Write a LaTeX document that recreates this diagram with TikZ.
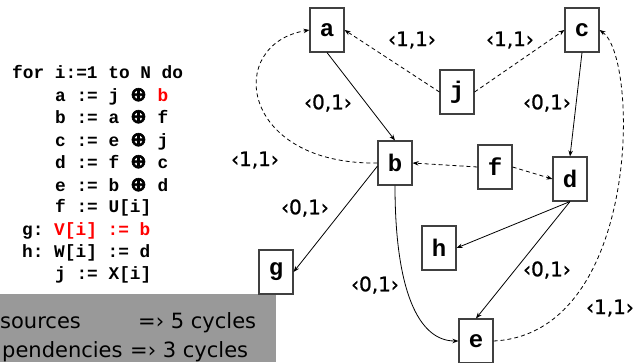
\documentclass[tikz,border=0pt]{standalone}
\usepackage{fontspec}
\setmainfont{DejaVu Sans}
\setmonofont{Liberation Mono}
\newfontfamily\opfont[FakeBold=3]{DejaVu Sans}
\newfontfamily\lblfont[FakeBold=1]{DejaVu Sans}
\usetikzlibrary{arrows.meta}
\tikzstyle{var}=[draw=black!75, line width=1.1pt, fill=white, minimum width=34pt, minimum height=44pt, inner sep=0pt, font=\ttfamily\bfseries\fontsize{24}{24}\selectfont]
\tikzstyle{dep}=[-{Stealth[length=6pt,width=4.5pt]}, line width=0.8pt]
\tikzstyle{carried}=[dep, dash pattern=on 4pt off 3pt]
\tikzstyle{lbl}=[font=\lblfont\fontsize{20}{20}\selectfont, inner sep=0pt]
\tikzstyle{code}=[anchor=base west, inner sep=0pt, font=\ttfamily\bfseries\fontsize{17.8}{17.8}\selectfont]
\tikzstyle{note}=[anchor=base west, inner sep=0pt, font=\fontsize{21}{21}\selectfont]
\newcommand{\opxor}{\makebox[17pt]{\opfont\fontsize{20}{20}\selectfont ⊕}}

\begin{document}
\begin{tikzpicture}[x=1pt, y=-1pt]
\useasboundingbox (0,0) rectangle (635,362);
% Loop body
    \node[code] (l0) at (12,78) {for i:=1 to N do};
    \node[code] (l1) at (55,101) {a := j \opxor{} \textcolor{red}{b}};
    \node[code] (l2) at (55,123) {b := a \opxor{} f};
    \node[code] (l3) at (55,146) {c := e \opxor{} j};
    \node[code] (l4) at (55,168) {d := f \opxor{} c};
    \node[code] (l5) at (55,191) {e := b \opxor{} d};
    \node[code] (l6) at (55,212) {f := U[i]};
    \node[code] (l7) at (22,235) {g: \textcolor{red}{V[i] := b}};
    \node[code] (l8) at (22,257) {h: W[i] := d};
    \node[code] (l9) at (55,279) {j := X[i]};
% Cycle counts
    \fill[black!40] (0,294) rectangle (276,362);
    \node[note] (n1) at (0,328) {sources};
    \node[note] (n1c) at (138,328) {=› 5 cycles};
    \node[note] (n2) at (2,357) {pendencies};
    \node[note] (n2c) at (130,357) {=› 3 cycles};
% Variables
    \node[var] (a) at (327,30) {a};
    \node[var] (c) at (582,30) {c};
    \node[var] (j) at (457,92) {j};
    \node[var] (b) at (395,163) {b};
    \node[var] (f) at (495,167) {f};
    \node[var] (d) at (570,179) {d};
    \node[var] (h) at (439,248) {h};
    \node[var] (g) at (276,272) {g};
    \node[var] (e) at (476,341) {e};
% Same-iteration dependences
    \draw[dep] (a.south) -- (b.north);
    \draw[dep] (c.south) -- (d.north);
    \draw[dep] (b.190) -- (g.east);
    \draw[dep] (b.south) .. controls +(0,105) and +(-40,0) .. (e.west);
    \draw[dep] (d.south) -- (h.east);
    \draw[dep] (d.south) -- (e.north);
% Loop-carried dependences
    \draw[carried] (j.west) -- (a.east);
    \draw[carried] (j.east) -- (c.west);
    \draw[carried] (f.west) -- (b.east);
    \draw[carried] (f.east) -- (d.west);
    \draw[carried] (b.west) .. controls +(-138,2) and +(-85,14) .. (a.west);
    \draw[carried] (e.east) .. controls +(147,-7) and +(40,28) .. (c.east);
% Distance labels
    \node[lbl] (ab) at (328,103) {‹0,1›};
    \node[lbl] (ja) at (412,40) {‹1,1›};
    \node[lbl] (jc) at (510,40) {‹1,1›};
    \node[lbl] (cd) at (547,103) {‹0,1›};
    \node[lbl] (ba) at (255,160) {‹1,1›};
    \node[lbl] (bg) at (305,208) {‹0,1›};
    \node[lbl] (be) at (375,285) {‹0,1›};
    \node[lbl] (de) at (547,270) {‹0,1›};
    \node[lbl] (ec) at (610,308) {‹1,1›};
\end{tikzpicture}
\end{document}
